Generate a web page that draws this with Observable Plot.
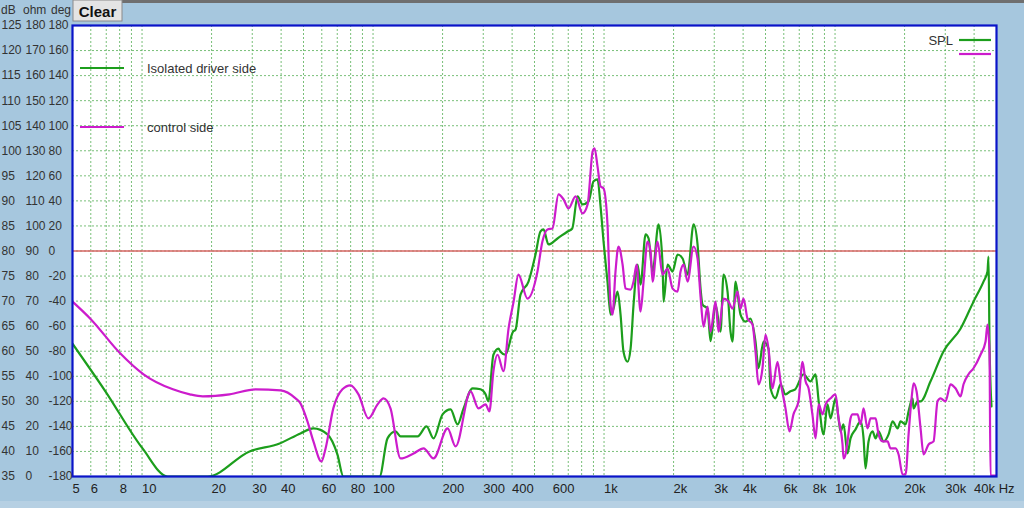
<!DOCTYPE html>
<html><head><meta charset="utf-8">
<script src="https://cdn.jsdelivr.net/npm/d3@7"></script>
<script src="https://cdn.jsdelivr.net/npm/@observablehq/plot@0.6"></script>
<style>
html,body{margin:0;padding:0;background:#a6c7de;}
#wrap{position:relative;width:1024px;height:508px;overflow:hidden;background:#a6c7de;font-family:"Liberation Sans",Arial,sans-serif;}
</style></head>
<body><div id="wrap"></div>
<script>
// ---- data (frequency in Hz, level in dB) ----
const isolatedDriverSide = [[5,61.5],[6.94,52.0],[10.05,40.6],[12.9,35],[19.2,35],[29.2,40.0],[39.4,41.6],[48.5,43.6],[55.2,44.6],[63.5,43.4],[70.1,39.4],[74.4,35],[106.7,35],[115.5,42.6],[125.1,44.0],[131.6,43.0],[155.9,43.0],[170.5,45.0],[182.8,42.6],[200,47.4],[216.6,48.4],[232.2,45.4],[246.6,48.6],[269.7,52.6],[291.9,52.4],[307,51.4],[315.6,50.0],[332,59.3],[349.3,60.5],[356.3,59.9],[374.5,59.3],[403.7,63.9],[413.8,64.3],[434.9,71.3],[471,73.9],[505,79.3],[530.8,83.9],[546.9,84.3],[574.9,81.3],[628.8,82.5],[695.2,83.9],[728.6,84.5],[768,90.9],[807,89.3],[857,89.9],[901,93.9],[937,94.3],[966,88.9],[995,81.9],[1035,73.9],[1067,67.3],[1099,68.5],[1144,71.9],[1179,67.3],[1214,59.9],[1264,57.9],[1303,60.5],[1342,69.3],[1397,77.3],[1439,73.3],[1513,83.3],[1559,82.5],[1622,75.9],[1722,85.3],[1792,77.3],[1810,69.9],[1884,77.3],[1980,75.9],[2081,79.3],[2188,78.5],[2299,75.3],[2441,85.3],[2540,81.3],[2617,72.5],[2669,69.3],[2806,68.5],[2891,62.0],[3039,69.3],[3194,63.9],[3291,75.3],[3425,71.9],[3528,63.9],[3599,61.9],[3708,73.9],[3898,67.3],[4096,65.9],[4306,66.5],[4526,61.9],[4663,56.6],[4902,61.9],[5152,60.5],[5256,52.6],[5524,50.6],[5806,53.4],[6102,51.4],[6409,52.0],[6727,52.4],[7304,55.4],[7833,54.0],[8234,55.4],[8495,50.0],[8919,43.4],[9279,49.4],[9562,46.6],[10050,50.6],[10355,46.6],[10563,44.0],[10884,45.4],[11326,39.6],[11670,42.6],[12267,44.4],[12895,46.0],[13287,42.6],[13552,36.6],[13964,42.0],[14538,44.0],[14982,42.6],[15434,44.0],[16222,42.0],[17054,43.4],[17746,46.0],[18652,44.6],[19218,46.0],[20200,45.4],[20814,48.0],[21660,50.6],[21876,48.6],[22766,50.0],[23456,50.0],[25914,54.0],[29508,60.0],[34932,64.5],[39761,69.9],[43928,73.9],[45710,75.9],[46170,78.9],[46630,62.0],[47570,49.0]];

const controlSide = [[5,69.9],[6,66.4],[8,59.7],[10.15,55.4],[13.6,52.4],[16.1,51.4],[18.3,51.0],[23.9,51.4],[31.0,52.4],[39.8,52.2],[46.2,50.6],[48.5,49.6],[52.0,46.0],[55.2,42.0],[59.8,38.0],[62.3,40.6],[67.3,48.6],[73.7,52.4],[79.8,53.2],[86.5,51.4],[95.5,46.6],[104.6,49.4],[111,50.6],[119,48.6],[131.6,38.6],[149.8,39.6],[165.5,40.6],[182.8,38.6],[210.2,44.6],[227.7,41.0],[264.4,52.0],[286,48.6],[307,49.4],[319,48.0],[332,56.0],[346,59.3],[367,56.0],[386,64.5],[406,69.9],[426,75.3],[466,70.5],[515,75.9],[541,81.9],[569,84.3],[598,84.5],[635,91.3],[668,90.3],[702,88.5],[753,90.9],[807,87.5],[849,89.3],[893,99.9],[910,100.5],[937,96.9],[966,92.9],[995,92.5],[1035,85.3],[1067,69.3],[1088,67.3],[1121,75.9],[1155,80.9],[1203,77.3],[1239,72.5],[1303,72.3],[1342,73.9],[1383,77.3],[1439,67.9],[1483,73.9],[1543,81.9],[1590,79.9],[1622,73.9],[1705,81.9],[1792,75.3],[1884,76.5],[1980,72.5],[2081,71.9],[2144,75.9],[2210,77.3],[2299,73.9],[2441,80.9],[2540,78.5],[2617,70.9],[2697,64.9],[2806,68.9],[2891,63.9],[3039,69.9],[3131,63.9],[3291,70.5],[3458,69.9],[3599,68.5],[3783,71.9],[3898,68.5],[4016,70.5],[4179,66.5],[4393,65.3],[4526,59.9],[4663,53.4],[4852,56.6],[5000,63.3],[5152,60.5],[5361,52.6],[5635,57.9],[5806,54.0],[6102,48.6],[6350,44.0],[6608,47.4],[6951,50.0],[7231,57.9],[7454,54.0],[7680,52.6],[7980,47.4],[8234,42.6],[8495,49.4],[8830,47.4],[9099,49.4],[9562,50.6],[10050,51.4],[10355,46.6],[10776,41.4],[10884,38.6],[11103,39.4],[11326,42.0],[11670,46.6],[11905,47.4],[12267,47.4],[12514,47.4],[12895,45.4],[13287,48.6],[13824,44.6],[14248,46.6],[14982,46.6],[15434,43.4],[16061,42.0],[16883,42.0],[17395,40.6],[18284,40.6],[18840,39.4],[19606,35.4],[20200,35.4],[20814,43.4],[21444,50.6],[21876,53.6],[22540,52.0],[23456,44.6],[24168,39.4],[25401,41.4],[26694,42.0],[27786,50.0],[28626,50.6],[30090,50.0],[31625,53.4],[33228,52.6],[34932,51.0],[35992,53.4],[37828,55.4],[39761,56.6],[42636,59.3],[44810,61.9],[45710,65.3],[46630,59.9],[47100,35.2],[49505,35.2]];

const dbTicks = [35,40,45,50,55,60,65,70,75,80,85,90,95,100,105,110,115,120,125];
const ohmTicks = [0,10,20,30,40,50,60,70,80,90,100,110,120,130,140,150,160,170,180];
const degTicks = [-180,-160,-140,-120,-100,-80,-60,-40,-20,0,20,40,60,80,100,120,140,160,180];
const referenceDb = [80];
const freqGrid = [5,6,7,8,9,10,20,30,40,50,60,70,80,90,100,200,300,400,500,600,700,800,900,1000,2000,3000,4000,5000,6000,7000,8000,9000,10000,20000,30000,40000];
const freqTicks = [5,6,8,10,20,30,40,60,80,100,200,300,400,600,1000,2000,3000,4000,6000,8000,10000,20000,30000,40000];
const freqTickLabels = ["5","6","8","10","20","30","40","60","80","100","200","300","400","600","1k","2k","3k","4k","6k","8k","10k","20k","30k","40k Hz"];
const seriesNames = ["Isolated driver side","control side"];
const seriesColors = ["#1c9e1c","#cc1ccc"];

const rows = (arr, name) => arr.map(([f, db]) => ({f, db, name}));
const leftRows = dbTicks.map((d, i) => ({db: d, ohm: ohmTicks[i], deg: degTicks[i]}));
const xTickRows = freqTicks.map((f, i) => ({f, label: freqTickLabels[i]}));

const FONT = "'Liberation Sans', Arial, sans-serif";
const plot = Plot.plot({
  width: 1024, height: 508,
  marginLeft: 72, marginRight: 28, marginTop: 25, marginBottom: 32,
  style: {background: "transparent", fontFamily: FONT, overflow: "visible"},
  x: {type: "log", domain: [5, 50000], axis: null},
  y: {domain: [35, 125], axis: null},
  marks: [
    Plot.frame({fill: "white", stroke: "none"}),
    Plot.ruleX(freqGrid, {stroke: "#4caa4c", strokeWidth: 1, strokeDasharray: "2,2", strokeOpacity: 0.75}),
    Plot.ruleY(dbTicks.slice(1, -1), {stroke: "#4caa4c", strokeWidth: 1, strokeDasharray: "2,2", strokeOpacity: 0.75}),
    Plot.ruleY(referenceDb, {stroke: "#d86464", strokeWidth: 1.6}),
    Plot.line(rows(isolatedDriverSide, seriesNames[0]), {x: "f", y: "db", stroke: seriesColors[0], strokeWidth: 2.2, clip: true, curve: "monotone-x"}),
    Plot.line(rows(controlSide, seriesNames[1]), {x: "f", y: "db", stroke: seriesColors[1], strokeWidth: 2.2, clip: true, curve: "monotone-x"}),
    Plot.frame({stroke: "#0a14c8", strokeWidth: 2.2}),
    // left three-column scale
    Plot.text(leftRows, {y: "db", text: d => String(d.db), frameAnchor: "left", dx: -71, textAnchor: "start", fontSize: 12, fill: "#333"}),
    Plot.text(leftRows, {y: "db", text: d => String(d.ohm), frameAnchor: "left", dx: -47, textAnchor: "start", fontSize: 12, fill: "#333"}),
    Plot.text(leftRows, {y: "db", text: d => String(d.deg), frameAnchor: "left", dx: -24, textAnchor: "start", fontSize: 12, fill: "#333"}),
    // frequency labels
    Plot.text(xTickRows, {x: "f", text: "label", frameAnchor: "bottom", dy: 16, dx: 0, textAnchor: "start", fontSize: 13, fill: "#222"})
  ]
});

const wrap = document.getElementById("wrap");
wrap.appendChild(plot);
const svg = d3.select(plot);

// top strip and bottom band
svg.insert("rect", ":first-child").attr("x", 122).attr("y", 0).attr("width", 902).attr("height", 3).attr("fill", "#6f6f6f");
svg.insert("rect", ":first-child").attr("x", 0).attr("y", 501).attr("width", 1024).attr("height", 7).attr("fill", "#b6d0e3");

// header of left scale
const hdr = svg.append("g").attr("font-family", FONT).attr("font-size", 12).attr("fill", "#333").attr("text-anchor", "start");
[["dB", 1], ["ohm", 23], ["deg", 51]].forEach(([t, x]) => hdr.append("text").attr("x", x).attr("y", 14).attr("text-anchor", "start").text(t));

// Clear button
const btn = svg.append("g");
btn.append("rect").attr("x", 73).attr("y", 0).attr("width", 49).attr("height", 21).attr("fill", "#e4e4e4").attr("stroke", "#8a8a8a").attr("stroke-width", 1);
btn.append("text").attr("x", 97.5).attr("y", 17).attr("text-anchor", "middle").attr("font-family", FONT).attr("font-weight", "bold").attr("font-size", 15).attr("fill", "#111").text("Clear");

// in-plot legend
const lg = svg.append("g").attr("font-family", FONT).attr("font-size", 13).attr("fill", "#333").attr("text-anchor", "start");
[[68, 0], [127, 1]].forEach(([y, i]) => {
  lg.append("line").attr("x1", 80).attr("x2", 124).attr("y1", y).attr("y2", y).attr("stroke", seriesColors[i]).attr("stroke-width", 2.2);
  lg.append("text").attr("x", 147).attr("y", y).attr("dy", "0.35em").attr("text-anchor", "start").text(seriesNames[i]);
});
lg.append("text").attr("x", 953).attr("y", 40).attr("dy", "0.35em").attr("text-anchor", "end").text("SPL");
lg.append("line").attr("x1", 959).attr("x2", 991).attr("y1", 40).attr("y2", 40).attr("stroke", seriesColors[0]).attr("stroke-width", 2.2);
lg.append("line").attr("x1", 959).attr("x2", 991).attr("y1", 54).attr("y2", 54).attr("stroke", seriesColors[1]).attr("stroke-width", 2.2);
</script>
</body></html>
